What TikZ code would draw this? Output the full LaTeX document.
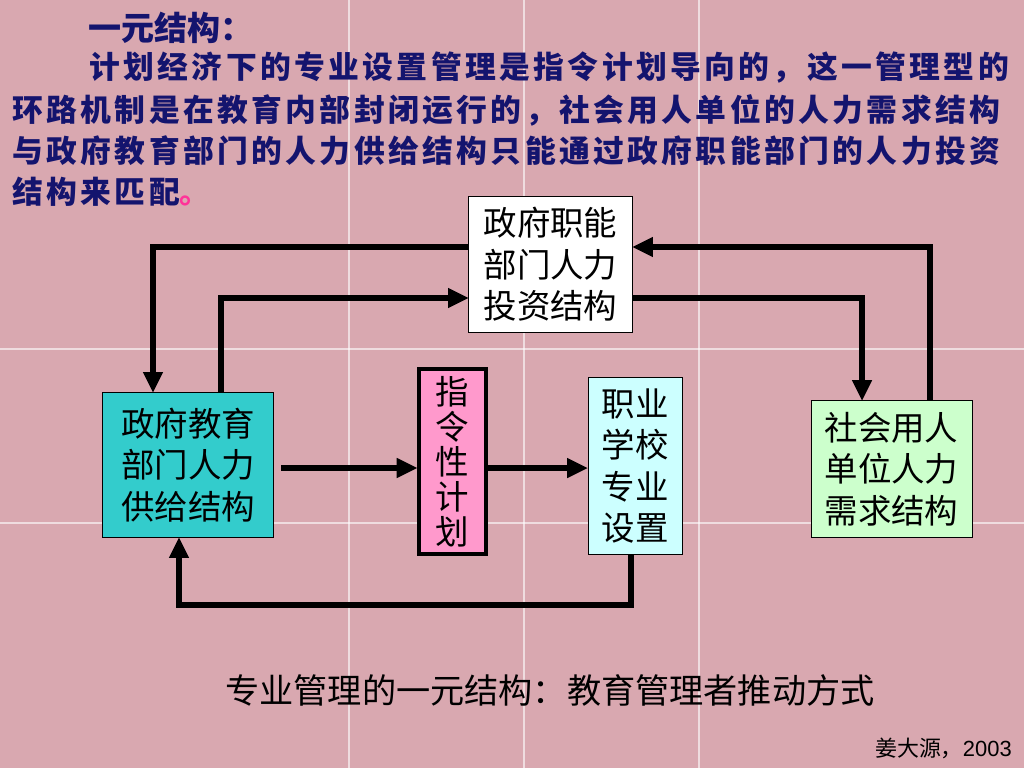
\documentclass[tikz,border=0pt]{standalone}
\usepackage{fontspec}
\setmainfont{Liberation Sans}
\newfontfamily\cjk{Noto Sans CJK SC}
\newfontfamily\cjkwide[LetterSpace=11]{Noto Sans CJK SC}
\usepackage{xcolor}
\usepackage{tikz}
\usetikzlibrary{positioning}
\usetikzlibrary{calc}
\usetikzlibrary{arrows.meta}
\definecolor{bgpink}{RGB}{217,168,176}
\definecolor{navy}{RGB}{20,20,110}
\definecolor{dotpink}{RGB}{255,51,153}
\definecolor{eduteal}{RGB}{51,204,204}
\definecolor{planpink}{RGB}{255,153,204}
\definecolor{schoolcyan}{RGB}{204,255,255}
\definecolor{demandgreen}{RGB}{204,255,204}

\begin{document}
\begin{tikzpicture}[x=0.025cm, y=-0.025cm,
  box/.style={draw, line width=0.7pt, inner sep=0pt, align=center, font=\cjk\fontsize{23.8}{29.5}\selectfont},
  flow/.style={line width=4.3pt, -{Triangle[width=14.5pt,length=14.5pt,line width=0pt]}},
  seam/.style={white, line width=0.8pt, opacity=0.6},
  body/.style={anchor=west, inner sep=0pt, text=navy, font=\cjkwide\bfseries\fontsize{21.9}{26}\selectfont}]
\useasboundingbox (0,0) rectangle (1024,768);
\fill[bgpink] (0,0) rectangle (1024,768);
\draw[seam] (349,0) -- (349,768);
\draw[seam] (524,0) -- (524,768);
\draw[seam] (699,0) -- (699,768);
\draw[seam] (0,349) -- (1024,349);
\draw[seam] (0,523) -- (1024,523);
%%%%%%%%%%%%%%%%%%%%%%%%%%%%%%%%%%%%%
\node[body, font=\cjk\bfseries\fontsize{23.5}{28}\selectfont] (title) at (88,28) {一元结构：};
\node[body] (l1) at (89,68) {计划经济下的专业设置管理是指令计划导向的，这一管理型的};
\node[body] (l2) at (12,110) {环路机制是在教育内部封闭运行的，社会用人单位的人力需求结构};
\node[body] (l3) at (12,151) {与政府教育部门的人力供给结构只能通过政府职能部门的人力投资};
\node[body] (l4) at (12,192) {结构来匹配\textcolor{dotpink}{。}};
%%%%%%%%%%%%%%%%%%%%%%%%%%%%%%%%%%%%%
\node[box, fill=white, minimum width=4.075cm, minimum height=3.375cm] (inv) at (550.5,264.5) {政府职能\\部门人力\\投资结构};
\node[box, fill=eduteal, minimum width=4.25cm, minimum height=3.6cm] (edu) at (188,465) {政府教育\\部门人力\\供给结构};
\node[box, fill=planpink, line width=2.8pt, minimum width=1.675cm, minimum height=4.625cm, font=\cjk\fontsize{23.8}{24.9}\selectfont] (plan) at (452.5,461.5) {指\\令\\性\\计\\划};
\node[box, fill=schoolcyan, minimum width=2.35cm, minimum height=4.4cm] (school) at (635,466) {职业\\学校\\专业\\设置};
\node[box, fill=demandgreen, minimum width=4.025cm, minimum height=3.4cm] (demand) at (891.5,469) {社会用人\\单位人力\\需求结构};
%%%%%%%%%%%%%%
\coordinate (aux1) at (153,247);
\coordinate (aux2) at (221,298);
\coordinate (aux3) at (862,298);
\coordinate (aux4) at (930,247);
\coordinate (aux5) at (631,605);
\coordinate (aux6) at (179,605);
\coordinate (aux7) at (281,468);
%%%%%%%%%%%%%%
\draw[flow] (inv.west |- aux1) -- (aux1) -- (aux1 |- edu.north);
\draw[flow] (aux2 |- edu.north) -- (aux2) -- (aux2 -| inv.west);
\draw[flow] (inv.east |- aux3) -- (aux3) -- (aux3 |- demand.north);
\draw[flow] (aux4 |- demand.north) -- (aux4) -- (aux4 -| inv.east);
\draw[flow] (aux5 |- school.south) -- (aux5) -- (aux6) -- (aux6 |- edu.south);
\draw[flow] (aux7) -- (aux7 -| plan.west);
\draw[flow] (plan.east |- aux7) -- (aux7 -| school.west);
%%%%%%%%%%%%%%%%%%%%%%%%%%%%%%%%%%%%%
\node[font=\cjk\fontsize{24.3}{28}\selectfont] (cap) at (550,690) {专业管理的一元结构：教育管理者推动方式};
\node[anchor=east, inner sep=0pt, font=\fontsize{15.6}{18}\selectfont] (src) at (1012,748) {{\cjk 姜大源，}2003};
\end{tikzpicture}
\end{document}
